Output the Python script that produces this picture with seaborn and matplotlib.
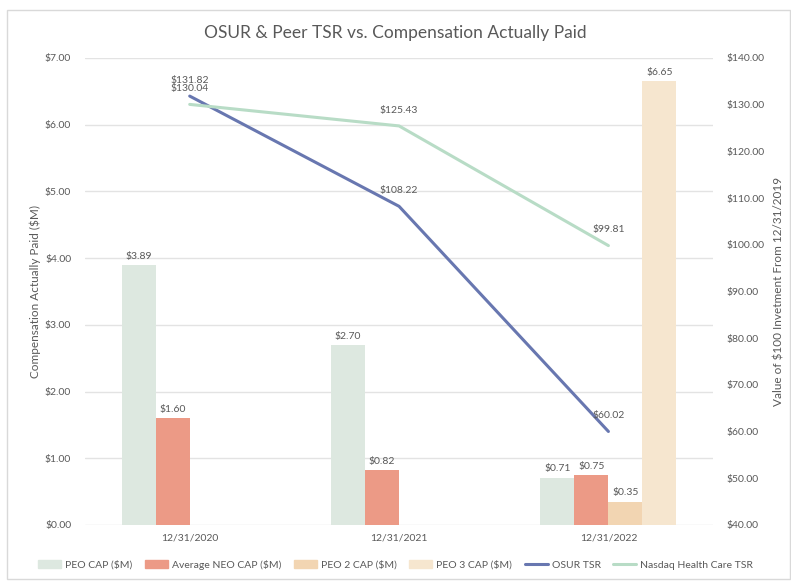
import numpy as np
import pandas as pd
import matplotlib.pyplot as plt
import seaborn as sns
from matplotlib.patches import Patch, Rectangle
from matplotlib.lines import Line2D
from matplotlib.ticker import FuncFormatter

sns.set_theme(style="white")
plt.rcParams["font.family"] = ["Lato", "DejaVu Sans"]

# data
dates = ["12/31/2020", "12/31/2021", "12/31/2022"]
bar_series = ["PEO CAP ($M)", "Average NEO CAP ($M)", "PEO 2 CAP ($M)", "PEO 3 CAP ($M)"]
peo_cap = [3.89, 2.70, 0.71]
neo_cap = [1.60, 0.82, 0.75]
peo2_cap = [np.nan, np.nan, 0.35]
peo3_cap = [np.nan, np.nan, 6.65]
line_series = ["OSUR TSR", "Nasdaq Health Care TSR"]
osur_tsr = [131.82, 108.22, 60.02]
nasdaq_tsr = [130.04, 125.43, 99.81]

bar_colors = ["#dde8e0", "#ec9a86", "#f2d5b2", "#f6e6cf"]
line_colors = ["#6877b0", "#b8dcc6"]
txt = "#595959"

bars = pd.DataFrame({
    "date": dates * 4,
    "series": np.repeat(bar_series, 3),
    "value": peo_cap + neo_cap + peo2_cap + peo3_cap,
})
lines = pd.DataFrame({
    "date": dates * 2,
    "series": np.repeat(line_series, 3),
    "value": osur_tsr + nasdaq_tsr,
})

fig = plt.figure(figsize=(7.91, 5.81), dpi=100)
fig.patches.append(Rectangle((0.009, 0.003), 0.99, 0.98, transform=fig.transFigure,
                             fill=False, edgecolor="#d9d9d9", linewidth=1))
ax = fig.add_axes([0.1075, 0.0964, 0.794, 0.804])

sns.barplot(data=bars, x="date", y="value", hue="series", hue_order=bar_series,
            order=dates, palette=bar_colors, width=0.65, saturation=1,
            linewidth=0, legend=False, ax=ax)
for cont in ax.containers:
    ax.bar_label(cont, labels=[f"${b.get_height():.2f}" for b in cont],
                 padding=3, fontsize=7.5, color=txt)

ax.set_ylim(0, 7)
ax.set_yticks(np.arange(0, 7.01, 1))
ax.yaxis.set_major_formatter(FuncFormatter(lambda v, p: f"${v:.2f}"))
ax.grid(axis="y", color="#e3e3e3", linewidth=1)
ax.set_axisbelow(True)
ax.set_xlabel("")
ax.set_ylabel("Compensation Actually Paid ($M)", fontsize=8.5, color=txt, labelpad=3)
ax.tick_params(axis="both", labelsize=7.5, colors=txt, length=0)
ax.tick_params(axis="y", pad=10)
ax.tick_params(axis="x", pad=6)

ax2 = ax.twinx()
sns.pointplot(data=lines, x="date", y="value", hue="series", hue_order=line_series,
              order=dates, palette=line_colors, markers="", linewidth=2.2,
              errorbar=None, legend=False, ax=ax2)
ax2.set_ylim(40, 140)
ax2.set_yticks(np.arange(40, 140.1, 10))
ax2.yaxis.set_major_formatter(FuncFormatter(lambda v, p: f"${v:.2f}"))
ax2.set_ylabel("Value of $100 Invetment From 12/31/2019", fontsize=8.5, color=txt, labelpad=6)
ax2.tick_params(axis="y", labelsize=7.5, colors=txt, length=0, pad=10)

for vals in [osur_tsr, nasdaq_tsr]:
    for i, v in enumerate(vals):
        ax2.annotate(f"${v:.2f}", (i, v), xytext=(0, 8), textcoords="offset points",
                     ha="center", va="bottom", fontsize=7.5, color=txt)

for a in (ax, ax2):
    for s in a.spines.values():
        s.set_visible(False)

fig.text(0.5, 0.943, "OSUR & Peer TSR vs. Compensation Actually Paid",
         ha="center", va="center", fontsize=12.5, color=txt)

handles = [Patch(color=c) for c in bar_colors] + \
          [Line2D([0], [0], color=c, linewidth=2.2) for c in line_colors]
fig.legend(handles, bar_series + line_series, loc="center", bbox_to_anchor=(0.5, 0.028),
           ncol=6, frameon=False, fontsize=7.5, labelcolor=txt,
           handlelength=2.2, handleheight=0.7, columnspacing=1.2, handletextpad=0.4)

fig.savefig("out.png", dpi=100)
